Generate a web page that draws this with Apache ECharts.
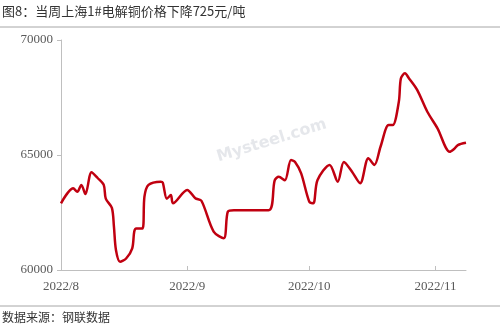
<!DOCTYPE html>
<html>
<head>
<meta charset="utf-8">
<style>
html,body{margin:0;padding:0;background:#fff;}
#chart{width:500px;height:332px;}
</style>
<script src="https://cdn.jsdelivr.net/npm/echarts@6/dist/echarts.min.js"></script>
</head>
<body>
<div id="chart"></div>
<script>
var titleText = '图8：当周上海1#电解铜价格下降725元/吨';
var sourceText = '数据来源：钢联数据';
var dates = [
 '2022-08-01','2022-08-04','2022-08-05','2022-08-06','2022-08-07','2022-08-08 12:00',
 '2022-08-10','2022-08-11 12:00','2022-08-12','2022-08-13 12:00','2022-08-14','2022-08-14 12:00',
 '2022-08-15 12:00','2022-08-17','2022-08-18 12:00','2022-08-19','2022-08-19 12:00','2022-08-21',
 '2022-08-21 12:00','2022-08-22 12:00','2022-08-25 12:00','2022-08-26','2022-08-27','2022-08-28',
 '2022-08-28 12:00','2022-09-01','2022-09-03','2022-09-04 12:00','2022-09-07 12:00','2022-09-10',
 '2022-09-11','2022-09-12 12:00','2022-09-21','2022-09-22 12:00','2022-09-23 12:00','2022-09-25',
 '2022-09-26 12:00','2022-09-27 12:00','2022-09-29','2022-10-01','2022-10-02','2022-10-03',
 '2022-10-06','2022-10-08','2022-10-09 12:00','2022-10-11 12:00','2022-10-13 12:00','2022-10-15 12:00',
 '2022-10-17','2022-10-18 12:00','2022-10-20 12:00','2022-10-21 12:00','2022-10-23','2022-10-23 12:00',
 '2022-10-24 12:00','2022-10-25 12:00','2022-10-27 12:00','2022-10-30','2022-11-01 12:00','2022-11-04 12:00',
 '2022-11-05 12:00','2022-11-06 12:00','2022-11-08 12:00'
];
var prices = [
 62900,63550,63400,63700,63300,64250,
 64000,63700,63100,62700,61900,60870,
 60360,60500,60940,61670,61800,61800,
 63190,63700,63840,63800,63100,63260,
 62900,63480,63120,63010,61670,61380,
 62540,62600,62600,63900,64050,63900,
 64780,64700,64200,62970,62900,63900,
 64570,63840,64700,64270,63770,64860,
 64570,65360,66300,66300,67320,68330,
 68550,68330,67830,66880,66160,65140,
 65250,65430,65530
];
var xMin = '2022-08-01';
var xMax = '2022-11-08 12:00';
var monthTicks = ['2022-08-01','2022-09-01','2022-10-01','2022-11-01'];
var yMin = 60000, yMax = 70000, yStep = 5000;

function ts(s){
  var p = s.split(/[- :]/);
  return Date.UTC(+p[0], +p[1]-1, +p[2], p[3]?+p[3]:0, p[4]?+p[4]:0);
}

var chart = echarts.init(document.getElementById('chart'), null, {renderer:'canvas'});
chart.setOption({
  animation:false,
  backgroundColor:'#fff',
  grid:{left:61,right:34,top:40,bottom:62,containLabel:false},
  graphic:[
    {type:'text',left:2,top:5,style:{text:titleText,font:'13px "Noto Sans CJK SC"',fill:'#333'}},
    {type:'line',shape:{x1:0,y1:27,x2:500,y2:27},style:{stroke:'#a6a6a6',lineWidth:1}},
    {type:'line',shape:{x1:0,y1:306,x2:500,y2:306},style:{stroke:'#a6a6a6',lineWidth:1}},
    {type:'text',left:2,top:311,style:{text:sourceText,font:'12px "Noto Sans CJK SC"',fill:'#333'}},
    {type:'text',x:215,y:150,rotation:0.3,style:{text:'Mysteel.com',font:'bold 16px "DejaVu Sans"',fill:'rgba(170,175,190,0.3)'}}
  ],
  xAxis:{
    type:'value',
    min:ts(xMin), max:ts(xMax),
    axisLine:{lineStyle:{color:'#bfbfbf'}},
    axisTick:{show:true,inside:true,length:4,lineStyle:{color:'#bfbfbf'},customValues:monthTicks.map(ts)},
    axisLabel:{
      customValues:monthTicks.map(ts),
      showMinLabel:true,showMaxLabel:true,hideOverlap:false,
      margin:10,
      color:'#595959',fontFamily:'Liberation Serif',fontSize:13,
      formatter:function(v){var d=new Date(v);return d.getUTCFullYear()+'/'+(d.getUTCMonth()+1);}
    },
    splitLine:{show:false}
  },
  yAxis:{
    type:'value',min:yMin,max:yMax,interval:yStep,
    axisLine:{show:true,lineStyle:{color:'#bfbfbf'}},
    axisTick:{show:true,inside:false,length:4,lineStyle:{color:'#bfbfbf'}},
    axisLabel:{color:'#595959',fontFamily:'Liberation Serif',fontSize:13,margin:8,formatter:function(v){return String(v);}},
    splitLine:{show:false}
  },
  series:[{
    type:'line',
    data:dates.map(function(d,i){return [ts(d),prices[i]];}),
    smooth:0.3,
    showSymbol:false,
    lineStyle:{color:'#c00010',width:2.5},
    itemStyle:{color:'#c00010'}
  }]
});
</script>
</body>
</html>
